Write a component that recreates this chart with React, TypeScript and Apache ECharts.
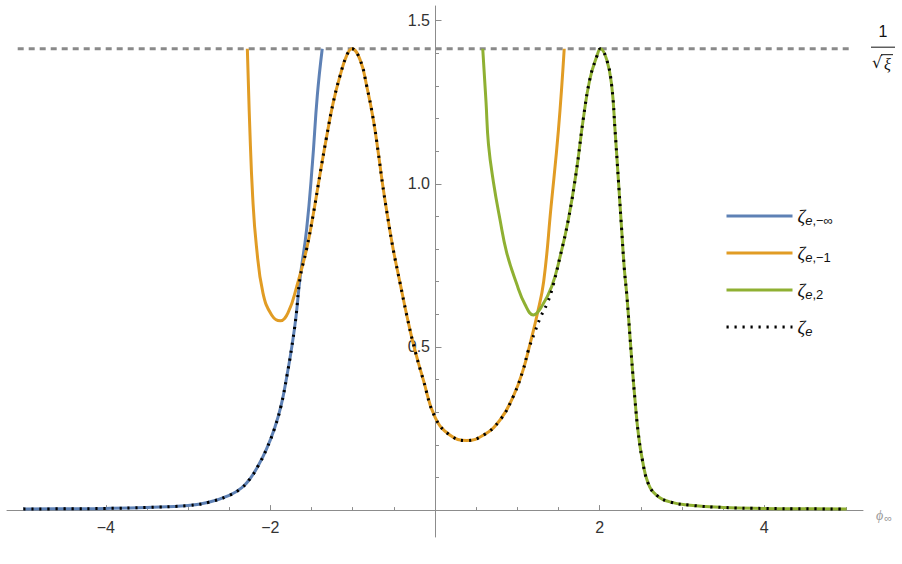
import { useEffect, useRef } from "react";
import * as echarts from "echarts";

// 1/sqrt(xi) with xi = 1/2
const XI_LINE = 1.4142;
const XI_X = [-5.07, 5.05];

const X_RANGE = [-5.2, 5.2];
const Y_RANGE = [-0.0825, 1.545];

const X_MAJOR = [-4, -2, 2, 4];
const X_MINOR = [-5, -4.5, -3.5, -3, -2.5, -1.5, -1, -0.5, 0.5, 1, 1.5, 2.5, 3, 3.5, 4.5, 5];
const Y_MAJOR = [0.5, 1, 1.5];
const Y_MINOR = [0.1, 0.2, 0.3, 0.4, 0.6, 0.7, 0.8, 0.9, 1.1, 1.2, 1.3, 1.4];

const NAMES = ["ζe,−∞", "ζe,−1", "ζe,2", "ζe"];
const COLORS = ["#5e81b5", "#e19c24", "#8fb032", "#000000"];

// zeta_{e,-inf}
const BLUE_X = [-5, -4.5, -4, -3.5, -3, -2.75, -2.5, -2.35, -2.25, -2.15, -2.05, -1.95, -1.87, -1.8, -1.74, -1.69, -1.64, -1.56, -1.49, -1.43, -1.37];
const BLUE_Y = [0.003, 0.004, 0.005, 0.008, 0.014, 0.024, 0.045, 0.068, 0.095, 0.135, 0.185, 0.25, 0.32, 0.41, 0.5, 0.59, 0.71, 0.86, 1.06, 1.27, 1.414];

// zeta_{e,-1}
const ORANGE_X = [-2.28, -2.25, -2.215, -2.17, -2.09, -1.985, -1.88, -1.78, -1.68, -1.56, -1.48, -1.4, -1.32, -1.24, -1.155, -1.07, -1.01, -0.91, -0.83, -0.75, -0.69, -0.636, -0.575, -0.507, -0.426, -0.344, -0.255, -0.142, 0, 0.18, 0.385, 0.59, 0.79, 0.95, 1.07, 1.16, 1.24, 1.32, 1.41, 1.5, 1.57];
const ORANGE_Y = [1.414, 1.17, 0.96, 0.81, 0.665, 0.598, 0.58, 0.608, 0.685, 0.8, 0.905, 1.025, 1.14, 1.245, 1.33, 1.395, 1.414, 1.38, 1.3, 1.198, 1.097, 0.997, 0.898, 0.798, 0.698, 0.598, 0.501, 0.399, 0.285, 0.23, 0.213, 0.23, 0.276, 0.348, 0.429, 0.515, 0.598, 0.7, 0.93, 1.166, 1.414];

// zeta_{e,2}
const GREEN_X = [0.58, 0.62, 0.65, 0.71, 0.79, 0.87, 0.99, 1.094, 1.195, 1.296, 1.418, 1.52, 1.62, 1.72, 1.8, 1.88, 1.965, 2.01, 2.087, 2.147, 2.187, 2.228, 2.268, 2.3, 2.33, 2.36, 2.39, 2.43, 2.47, 2.52, 2.59, 2.69, 2.855, 3.1, 3.5, 4, 4.5, 5];
const GREEN_Y = [1.414, 1.25, 1.12, 1.005, 0.89, 0.79, 0.695, 0.63, 0.598, 0.624, 0.685, 0.777, 0.89, 1.043, 1.196, 1.319, 1.39, 1.414, 1.38, 1.3, 1.166, 1.012, 0.859, 0.74, 0.66, 0.562, 0.46, 0.337, 0.235, 0.153, 0.082, 0.046, 0.025, 0.015, 0.008, 0.005, 0.004, 0.003];

// zeta_e (dotted)
const DOT_X = [-5, -4.5, -4, -3.5, -3, -2.75, -2.5, -2.35, -2.25, -2.15, -2.05, -1.95, -1.87, -1.8, -1.74, -1.69, -1.64, -1.56, -1.48, -1.4, -1.32, -1.24, -1.155, -1.07, -1.01, -0.91, -0.83, -0.75, -0.69, -0.636, -0.575, -0.507, -0.426, -0.344, -0.255, -0.142, 0, 0.18, 0.385, 0.59, 0.79, 0.95, 1.07, 1.134, 1.215, 1.28, 1.365, 1.42, 1.52, 1.62, 1.72, 1.8, 1.88, 1.965, 2.01, 2.087, 2.147, 2.187, 2.228, 2.268, 2.3, 2.33, 2.36, 2.39, 2.43, 2.47, 2.52, 2.59, 2.69, 2.855, 3.1, 3.5, 4, 4.5, 5];
const DOT_Y = [0.003, 0.004, 0.005, 0.008, 0.014, 0.024, 0.045, 0.068, 0.095, 0.135, 0.185, 0.25, 0.32, 0.41, 0.5, 0.59, 0.71, 0.8, 0.905, 1.025, 1.14, 1.245, 1.33, 1.395, 1.414, 1.38, 1.3, 1.198, 1.097, 0.997, 0.898, 0.798, 0.698, 0.598, 0.501, 0.399, 0.285, 0.23, 0.213, 0.23, 0.276, 0.348, 0.429, 0.49, 0.547, 0.59, 0.635, 0.675, 0.777, 0.89, 1.043, 1.196, 1.319, 1.39, 1.414, 1.38, 1.3, 1.166, 1.012, 0.859, 0.74, 0.66, 0.562, 0.46, 0.337, 0.235, 0.153, 0.082, 0.046, 0.025, 0.015, 0.008, 0.005, 0.004, 0.003];

const AXIS_GRAY = "#8c8c8c";
const LABEL_FONT = "'Liberation Sans', Arial, sans-serif";
const SERIF = "'Liberation Serif', 'DejaVu Serif', serif";
const X_LABEL_GAP = 9;
const Y_LABEL_GAP = 5;

const pairs = (xs: number[], ys: number[]) => xs.map((x, i) => [x, ys[i]]);

const fmtX = (v: number) => (v < 0 ? `−${-v}` : `${v}`);

export default function App() {
  const ref = useRef<HTMLDivElement | null>(null);

  useEffect(() => {
    if (!ref.current) return;
    const chart = echarts.init(ref.current, undefined, { renderer: "svg" });

    const curve = (name: string, xs: number[], ys: number[], color: string, dotted = false) => ({
      name,
      type: "line",
      data: pairs(xs, ys),
      symbol: "none",
      smooth: 0.45,
      clip: false,
      z: dotted ? 4 : 3,
      itemStyle: { color },
      lineStyle: dotted
        ? { color, width: 3, type: [2.2, 5.8], cap: "butt" }
        : { color, width: 3 },
    });

    const xBase = {
      type: "value",
      min: X_RANGE[0],
      max: X_RANGE[1],
      position: "bottom",
      splitLine: { show: false },
    };
    const yBase = {
      type: "value",
      min: Y_RANGE[0],
      max: Y_RANGE[1],
      position: "left",
      splitLine: { show: false },
    };

    chart.setOption({
      animation: false,
      backgroundColor: "#ffffff",
      grid: { left: 7, right: 39, top: 6, bottom: 27, outerBoundsMode: "none" },
      xAxis: [
        {
          ...xBase,
          name: "{p|ϕ}{s|∞}",
          nameLocation: "end",
          nameGap: 13,
          nameTextStyle: {
            rich: {
              p: { fontFamily: SERIF, fontStyle: "italic", fontSize: 14, color: "#9a9a9a", padding: [10, 0, 0, 0] },
              s: { fontFamily: LABEL_FONT, fontSize: 11, color: "#9a9a9a", padding: [16, 0, 0, 1] },
            },
          },
          axisLine: { onZero: true, onZeroAxisIndex: 0, lineStyle: { color: AXIS_GRAY, width: 1 } },
          axisTick: { inside: true, length: 5, customValues: X_MAJOR, lineStyle: { color: AXIS_GRAY } },
          axisLabel: {
            customValues: X_MAJOR,
            formatter: fmtX,
            margin: X_LABEL_GAP,
            fontSize: 16,
            fontFamily: LABEL_FONT,
            color: "#333",
          },
        },
        {
          ...xBase,
          axisLine: { show: false, onZero: true, onZeroAxisIndex: 0 },
          axisTick: { inside: true, length: 3, customValues: X_MINOR, lineStyle: { color: AXIS_GRAY } },
          axisLabel: { show: false },
        },
      ],
      yAxis: [
        {
          ...yBase,
          axisLine: { onZero: true, onZeroAxisIndex: 0, lineStyle: { color: AXIS_GRAY, width: 1 } },
          axisTick: { inside: true, length: 6.5, customValues: Y_MAJOR, lineStyle: { color: AXIS_GRAY } },
          axisLabel: {
            customValues: Y_MAJOR,
            formatter: (v: number) => v.toFixed(1),
            margin: Y_LABEL_GAP,
            fontSize: 16,
            fontFamily: LABEL_FONT,
            color: "#333",
          },
        },
        {
          ...yBase,
          axisLine: { show: false, onZero: true, onZeroAxisIndex: 0 },
          axisTick: { inside: true, length: 4, customValues: Y_MINOR, lineStyle: { color: AXIS_GRAY } },
          axisLabel: { show: false },
        },
      ],
      legend: {
        data: NAMES,
        orient: "vertical",
        left: 720,
        top: 200,
        itemWidth: 66,
        itemHeight: 14,
        itemGap: 15,
        selectedMode: false,
        lineStyle: { width: 3 },
        itemStyle: { opacity: 0 },
        formatter: (name: string) => {
          const sub = name.slice(2);
          return `{z|ζ}{e|e}` + (sub ? `{s|${sub}}` : "");
        },
        textStyle: {
          rich: {
            z: { fontFamily: SERIF, fontStyle: "italic", fontSize: 19, lineHeight: 22, color: "#111" },
            e: { fontFamily: LABEL_FONT, fontStyle: "italic", fontSize: 13, lineHeight: 22, color: "#111", padding: [9, 0, 0, 0] },
            s: { fontFamily: LABEL_FONT, fontSize: 13, lineHeight: 22, color: "#111", padding: [9, 0, 0, 0] },
          },
        },
      },
      series: [
        {
          name: "xi",
          type: "line",
          data: pairs(XI_X, [XI_LINE, XI_LINE]),
          symbol: "none",
          silent: true,
          clip: false,
          z: 2,
          lineStyle: { color: "#8a8a8a", width: 3, type: [6, 5], cap: "butt" },
        },
        curve(NAMES[0], BLUE_X, BLUE_Y, COLORS[0]),
        curve(NAMES[1], ORANGE_X, ORANGE_Y, COLORS[1]),
        curve(NAMES[2], GREEN_X, GREEN_Y, COLORS[2]),
        curve(NAMES[3], DOT_X, DOT_Y, COLORS[3], true),
      ],
    });

    // onZero axes keep their labels at the grid edge: pull them back to the axis lines
    const [xLeft, yBottom] = chart.convertToPixel({ gridIndex: 0 }, [X_RANGE[0], Y_RANGE[0]]) as number[];
    const [x0, y0] = chart.convertToPixel({ gridIndex: 0 }, [0, 0]) as number[];
    const [xEnd, yLine] = chart.convertToPixel({ gridIndex: 0 }, [X_RANGE[1], XI_LINE]) as number[];

    const txt = (x: number, y: number, text: string, font: string, italic = false) => ({
      type: "text",
      x,
      y,
      style: {
        text,
        fontFamily: font,
        fontSize: 16,
        fontStyle: italic ? "italic" : "normal",
        fill: "#111",
        align: "center",
        verticalAlign: "middle",
        textAlign: "center",
        textVerticalAlign: "middle",
      },
    });

    chart.setOption({
      xAxis: [{ axisLabel: { margin: X_LABEL_GAP - (yBottom - y0) } }, {}],
      yAxis: [{ axisLabel: { margin: Y_LABEL_GAP - (x0 - xLeft) } }, {}],
      graphic: [
        txt(xEnd + 20, yLine - 17, "1", LABEL_FONT),
        {
          type: "line",
          shape: { x1: xEnd + 8, y1: yLine - 1.5, x2: xEnd + 32, y2: yLine - 1.5 },
          style: { stroke: "#111", lineWidth: 1 },
        },
        txt(xEnd + 14, yLine + 14, "√", "'DejaVu Sans', sans-serif"),
        txt(xEnd + 24.5, yLine + 16, "ξ", SERIF, true),
        {
          type: "line",
          shape: { x1: xEnd + 18, y1: yLine + 6, x2: xEnd + 30, y2: yLine + 6 },
          style: { stroke: "#111", lineWidth: 1 },
        },
      ],
    });

    return () => chart.dispose();
  }, []);

  return (
    <div
      ref={ref}
      style={{ position: "absolute", left: 0, top: 0, width: 902, height: 564, background: "#fff" }}
    />
  );
}
